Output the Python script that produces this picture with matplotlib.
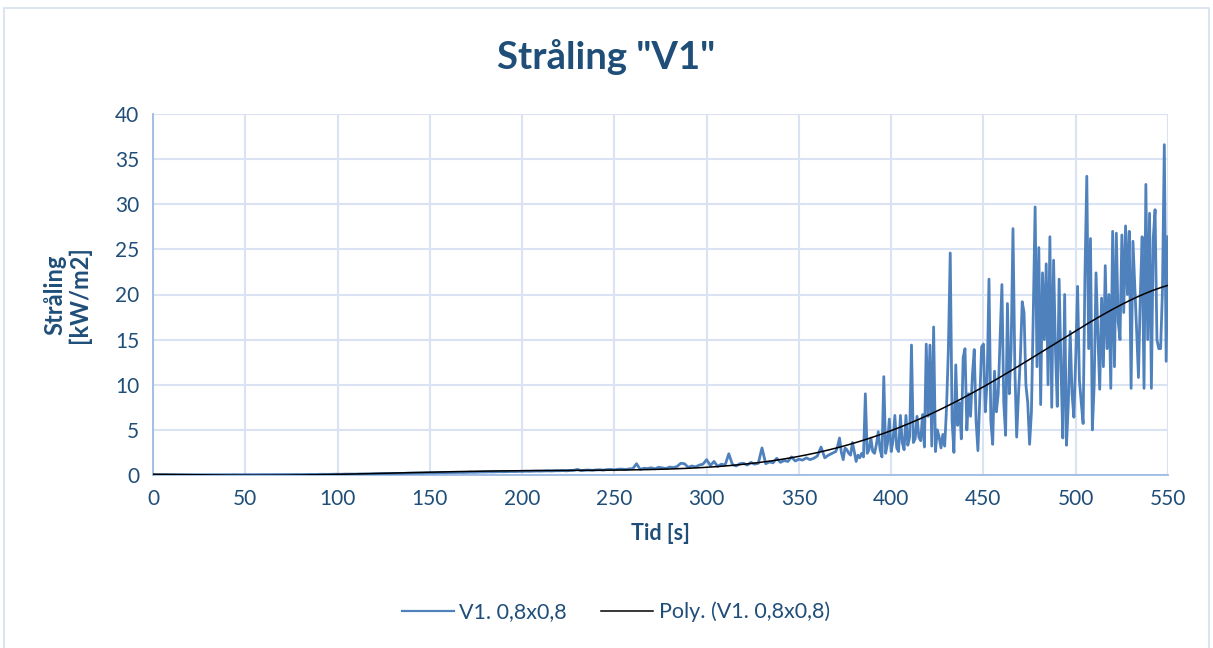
import numpy as np
import matplotlib
matplotlib.use("Agg")
import matplotlib.pyplot as plt
from matplotlib.lines import Line2D
from matplotlib.patches import Rectangle

# ---- data -------------------------------------------------------------
tid_lav = list(range(0, 370, 2))
straaling_lav = [
    0.00, 0.01, 0.01, 0.02, 0.02, 0.02, 0.01, 0.02, 0.02, 0.02,
    0.02, 0.03, 0.02, 0.03, 0.03, 0.02, 0.03, 0.03, 0.03, 0.02,
    0.03, 0.03, 0.04, 0.03, 0.03, 0.04, 0.04, 0.03, 0.04, 0.04,
    0.04, 0.04, 0.05, 0.04, 0.05, 0.05, 0.04, 0.05, 0.05, 0.06,
    0.05, 0.06, 0.06, 0.07, 0.06, 0.07, 0.08, 0.07, 0.08, 0.08,
    0.09, 0.08, 0.10, 0.10, 0.11, 0.10, 0.12, 0.12, 0.13, 0.12,
    0.14, 0.14, 0.15, 0.16, 0.15, 0.17, 0.18, 0.17, 0.19, 0.20,
    0.20, 0.21, 0.22, 0.21, 0.23, 0.24, 0.23, 0.25, 0.26, 0.25,
    0.27, 0.27, 0.28, 0.29, 0.28, 0.30, 0.31, 0.30, 0.32, 0.33,
    0.33, 0.35, 0.34, 0.36, 0.37, 0.36, 0.38, 0.39, 0.38, 0.40,
    0.40, 0.42, 0.41, 0.43, 0.44, 0.43, 0.45, 0.46, 0.44, 0.47,
    0.47, 0.49, 0.46, 0.50, 0.52, 0.62, 0.48, 0.53, 0.55, 0.51,
    0.56, 0.58, 0.54, 0.60, 0.62, 0.57, 0.64, 0.66, 0.60, 0.68,
    0.70, 1.25, 0.62, 0.75, 0.72, 0.80, 0.68, 0.85, 0.78, 0.72,
    0.88, 0.82, 0.95, 1.30, 1.25, 0.85, 1.00, 0.90, 1.10, 1.20,
    1.70, 1.05, 1.50, 0.95, 1.20, 1.10, 2.35, 1.15, 1.00, 1.25,
    1.30, 1.10, 1.40, 1.20, 1.30, 3.00, 1.25, 1.45, 1.35, 1.85,
    1.40, 1.60, 1.50, 2.00, 1.55, 1.75, 1.65, 1.90, 1.70, 1.85,
    2.10, 3.10, 1.90, 2.20, 2.40,
]

tid_hoy = list(range(370, 551))
straaling_hoy = [
    2.6, 3.2, 4.1, 2.5, 1.7, 3.0, 2.8, 2.4, 2.2, 3.6,   # 370
    2.6, 1.5, 2.2, 1.9, 2.4, 2.0, 9.0, 2.4, 2.8, 4.1,   # 380
    2.6, 2.4, 3.4, 4.8, 2.8, 2.0, 10.9, 2.4, 3.5, 6.2,  # 390
    2.6, 3.8, 6.6, 3.0, 2.6, 6.6, 3.6, 2.8, 6.6, 3.3,   # 400
    4.2, 14.4, 3.6, 4.0, 6.5, 4.2, 3.8, 6.7, 3.1, 14.5, # 410
    6.5, 14.4, 3.2, 16.4, 2.6, 5.0, 4.2, 3.0, 4.5, 3.2, # 420
    7.5, 14.0, 24.6, 6.0, 2.5, 12.2, 5.5, 8.0, 4.0, 13.0,  # 430
    14.0, 5.0, 9.0, 6.5, 11.0, 13.9, 6.0, 2.7, 8.5, 14.2,  # 440
    14.5, 7.0, 10.5, 21.7, 6.0, 3.4, 11.5, 7.0, 9.0, 15.0, # 450
    21.1, 8.0, 4.4, 19.0, 9.0, 14.0, 27.3, 12.0, 4.2, 9.0, # 460
    13.0, 19.2, 18.0, 10.0, 8.0, 3.4, 7.0, 18.0, 29.7, 12.0,  # 470
    25.2, 7.8, 22.4, 15.0, 23.4, 10.0, 26.4, 7.5, 23.8, 14.0, # 480
    7.6, 21.7, 12.0, 4.1, 20.0, 3.3, 8.0, 15.9, 9.0, 6.4,     # 490
    13.0, 20.9, 10.5, 8.0, 5.7, 22.2, 33.1, 14.0, 26.2, 5.0,  # 500
    10.0, 22.4, 15.5, 9.5, 19.6, 12.0, 23.2, 14.0, 20.0, 9.6, # 510
    27.0, 12.0, 26.8, 17.0, 15.0, 26.6, 18.0, 27.6, 20.0, 27.0,  # 520
    9.6, 25.9, 21.0, 16.0, 10.8, 20.0, 26.4, 9.6, 32.2, 15.0,    # 530
    29.0, 9.6, 26.2, 29.4, 15.0, 14.0, 14.0, 20.5, 36.6, 12.6,   # 540
    26.4,                                                         # 550
]

tid = np.array(tid_lav + tid_hoy, dtype=float)
straaling = np.array(straaling_lav + straaling_hoy, dtype=float)

x_ticks = list(range(0, 551, 50))
y_ticks = list(range(0, 41, 5))
title = 'Stråling "V1"'
serie_navn = "V1. 0,8x0,8"
trend_navn = "Poly. (V1. 0,8x0,8)"

# ---- style ------------------------------------------------------------
plt.rcParams['font.family'] = ['Lato', 'DejaVu Sans']
navy = '#1F4E79'
blue = '#4F81BD'
grid_c = '#D9E3F3'
spine_c = '#9DBBE3'

fig = plt.figure(figsize=(12.13, 6.48), dpi=100)
fig.patches.append(Rectangle((0.003, -0.01), 0.994, 0.997, transform=fig.transFigure,
                             fill=False, edgecolor='#D6DFEC', linewidth=1.2))
ax = fig.add_axes([153/1213, 1-475/648, (1168-153)/1213, (475-114)/648])

ax.plot(tid, straaling, color=blue, linewidth=2.0, zorder=3)

# polynomial trend line (as the spreadsheet's "Poly." trendline),
# weighted by sample spacing so that the 2 s and 1 s parts count equally
w = np.sqrt(np.gradient(tid))
coef = np.polyfit(tid / 550.0, straaling, 6, w=w)
tt = np.linspace(0, 550, 400)
ax.plot(tt, np.polyval(coef, tt / 550.0), color='black', linewidth=1.1, zorder=4)

ax.set_xlim(0, 550)
ax.set_ylim(0, 40)
ax.set_xticks(x_ticks)
ax.set_yticks(y_ticks)
ax.grid(True, color=grid_c, linewidth=1.5)
ax.set_axisbelow(True)
for s in ['top', 'right']:
    ax.spines[s].set_visible(False)
for s in ['left', 'bottom']:
    ax.spines[s].set_color(spine_c)
    ax.spines[s].set_linewidth(1.3)
ax.tick_params(length=0, labelsize=15, labelcolor=navy, pad=10)

fig.text(0.5, 1-57/648, title, ha='center', va='center', fontsize=27.5,
         fontweight='bold', color=navy)
ax.set_xlabel('Tid [s]', fontsize=15.5, fontweight='bold', color=navy, labelpad=10)
ax.set_ylabel('Stråling\n[kW/m2]', fontsize=17, fontweight='bold', color=navy,
              labelpad=17, linespacing=1.05)

handles = [Line2D([], [], color=blue, linewidth=1.6),
           Line2D([], [], color='black', linewidth=1.1)]
fig.legend(handles, [serie_navn, trend_navn], loc='center',
           bbox_to_anchor=(616/1213, 1-612/648), ncol=2, frameon=False,
           fontsize=15.5, labelcolor=navy, handlelength=2.4, columnspacing=1.6,
           handletextpad=0.25)

fig.savefig('out.png', dpi=100)
